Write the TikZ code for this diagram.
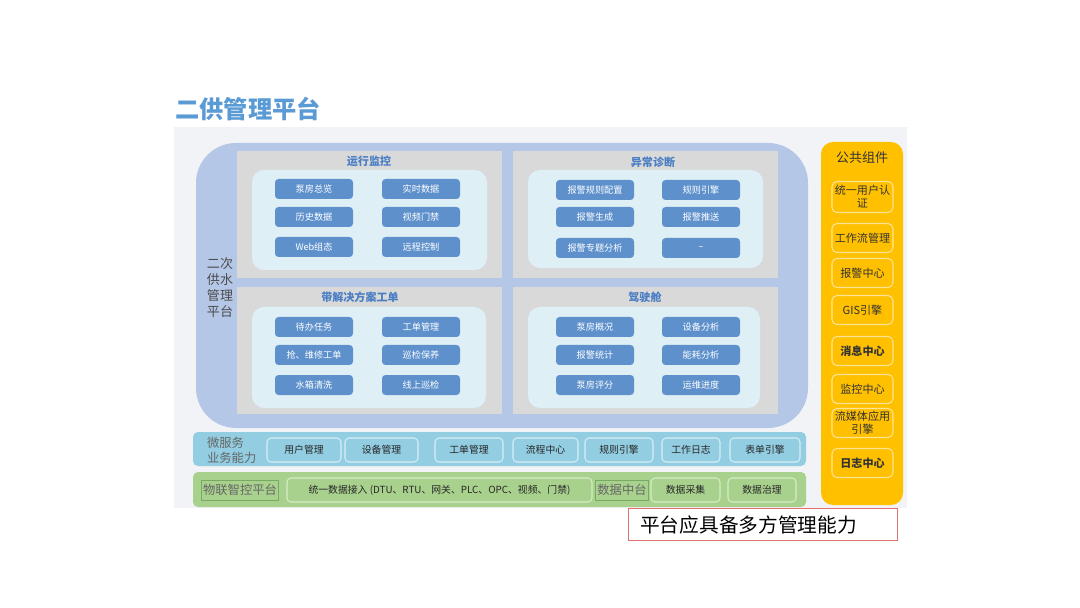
\documentclass[tikz,border=0pt]{standalone}
\usepackage{fontspec}
\setmainfont{Noto Sans CJK SC}
\usepackage{xcolor}
\usepackage{tikz}
\usetikzlibrary{positioning,shadows}
\definecolor{titleblue}{RGB}{91,155,213}
\definecolor{canvasgray}{RGB}{241,243,246}
\definecolor{areablue}{RGB}{180,199,231}
\definecolor{panelgray}{RGB}{217,217,217}
\definecolor{innercyan}{RGB}{222,239,246}
\definecolor{btnblue}{RGB}{94,145,204}
\definecolor{headblue}{RGB}{74,126,196}
\definecolor{svcblue}{RGB}{146,205,225}
\definecolor{svcedge}{RGB}{214,238,246}
\definecolor{iotgreen}{RGB}{169,209,142}
\definecolor{iotedge}{RGB}{214,236,196}
\definecolor{tagedge}{RGB}{120,170,100}
\definecolor{compyellow}{RGB}{255,192,0}
\definecolor{compedge}{RGB}{255,228,150}
\definecolor{notered}{RGB}{226,112,112}
\newlength{\pxu}
\setlength{\pxu}{0.02cm}

\begin{document}
\begin{tikzpicture}[
  x=0.02cm, y=-0.02cm,
  fn/.style={rectangle, rounded corners=2pt, fill=btnblue, text=white, inner sep=0pt,
             minimum width=78\pxu, minimum height=20\pxu, font=\fontsize{5.2}{6}\selectfont},
  head/.style={font=\fontsize{6.3}{7}\selectfont\bfseries, text=headblue, inner sep=0pt},
  svc/.style={rectangle, rounded corners=4\pxu, draw=svcedge, line width=0.6pt, fill=svcblue,
              text=black!85, inner sep=0pt, minimum height=24\pxu, font=\fontsize{5.6}{6.5}\selectfont},
  iot/.style={svc, draw=iotedge, fill=iotgreen},
  tag/.style={text=black!60, inner sep=1pt, font=\fontsize{7}{8.6}\selectfont, align=left},
  comp/.style={rectangle, rounded corners=5\pxu, draw=compedge, line width=0.6pt, fill=compyellow,
               text=black!80, inner sep=0pt, minimum width=61\pxu, minimum height=29\pxu,
               align=center, font=\fontsize{6.3}{7.4}\selectfont}]

  \useasboundingbox (0,0) rectangle (1080,608);
  \fill[white] (0,0) rectangle (1080,608);

  % ---------- title and backdrop ----------
  \node[anchor=west, inner sep=0pt, text=titleblue, font=\fontsize{13.8}{15}\selectfont\bfseries] (title) at (175,109) {二供管理平台};
  \fill[canvasgray] (174,127) rectangle (907,508);
  \fill[areablue, rounded corners=40\pxu] (196,143) rectangle (808,428);
  \node[tag, align=center, text=black!70, font=\fontsize{7.4}{9.1}\selectfont] (plat) at (220,288) {二次\\供水\\管理\\平台};

  % ---------- four panels ----------
  \fill[panelgray] (237,151) rectangle (502,278);
  \fill[panelgray] (513,151) rectangle (778,278);
  \fill[panelgray] (237,287) rectangle (502,414);
  \fill[panelgray] (513,287) rectangle (778,414);
  \begin{scope}[rounded corners=12\pxu, drop shadow={shadow xshift=1pt, shadow yshift=-1pt, opacity=0.35}]
    \fill[innercyan] (252,170) rectangle (487,270);
    \fill[innercyan] (528,170) rectangle (763,268);
    \fill[innercyan] (252,307) rectangle (486,408);
    \fill[innercyan] (528,307) rectangle (760,408);
  \end{scope}

  % monitoring
  \node[head] (monH) at (369,161) {运行监控};
  \node[fn] (mon1) at (314,189) {泵房总览};
  \node[fn] (mon2) at (421,189) {实时数据};
  \node[fn] (mon3) at (314,217) {历史数据};
  \node[fn] (mon4) at (421,217) {视频门禁};
  \node[fn] (mon5) at (314,247) {Web组态};
  \node[fn] (mon6) at (421,247) {远程控制};

  % diagnosis
  \node[head] (diaH) at (653,162) {异常诊断};
  \node[fn] (dia1) at (595,190) {报警规则配置};
  \node[fn] (dia2) at (701,190) {规则引擎};
  \node[fn] (dia3) at (595,217) {报警生成};
  \node[fn] (dia4) at (701,217) {报警推送};
  \node[fn] (dia5) at (595,248) {报警专题分析};
  \node[fn] (dia6) at (701,248) {--};

  % work orders
  \node[head] (ordH) at (360,297) {带解决方案工单};
  \node[fn] (ord1) at (314,327) {待办任务};
  \node[fn] (ord2) at (421,327) {工单管理};
  \node[fn] (ord3) at (314,355) {抢、维修工单};
  \node[fn] (ord4) at (421,355) {巡检保养};
  \node[fn] (ord5) at (314,385) {水箱清洗};
  \node[fn] (ord6) at (421,385) {线上巡检};

  % cockpit
  \node[head] (ckpH) at (645,297) {驾驶舱};
  \node[fn] (ckp1) at (595,327) {泵房概况};
  \node[fn] (ckp2) at (701,327) {设备分析};
  \node[fn] (ckp3) at (595,355) {报警统计};
  \node[fn] (ckp4) at (701,355) {能耗分析};
  \node[fn] (ckp5) at (595,385) {泵房评分};
  \node[fn] (ckp6) at (701,385) {运维进度};

  % ---------- micro services ----------
  \fill[svcblue, rounded corners=5\pxu] (193,432) rectangle (806,466);
  \node[tag, anchor=west] (svcT) at (205,450) {微服务\\业务能力};
  \node[svc, minimum width=74\pxu] (svc1) at (304,450) {用户管理};
  \node[svc, minimum width=73\pxu] (svc2) at (381.5,450) {设备管理};
  \node[svc, minimum width=68\pxu] (svc3) at (469,450) {工单管理};
  \node[svc, minimum width=65\pxu] (svc4) at (545.5,450) {流程中心};
  \node[svc, minimum width=68\pxu] (svc5) at (619,450) {规则引擎};
  \node[svc, minimum width=58\pxu] (svc6) at (691,450) {工作日志};
  \node[svc, minimum width=70\pxu] (svc7) at (765,450) {表单引擎};

  % ---------- IoT / data ----------
  \fill[iotgreen, rounded corners=5\pxu] (193,472) rectangle (806,507);
  \node[tag, draw=tagedge, line width=0.3pt, minimum height=20\pxu] (iotT) at (240,490) {物联智控平台};
  \node[iot, minimum width=305\pxu] (iot1) at (439.5,490) {统一数据接入 (DTU、RTU、网关、PLC、OPC、视频、门禁)};
  \node[tag, draw=tagedge, line width=0.3pt, minimum height=20\pxu] (dataT) at (622,490) {数据中台};
  \node[iot, minimum width=69\pxu] (iot2) at (685.5,490) {数据采集};
  \node[iot, minimum width=68\pxu] (iot3) at (762,490) {数据治理};

  % ---------- common components ----------
  \fill[compyellow, rounded corners=12\pxu] (821,142) rectangle (903,505);
  \node[inner sep=0pt, text=black!80, font=\fontsize{7.4}{8}\selectfont] (compT) at (862,158) {公共组件};
  \node[comp, minimum height=31\pxu] (cmp1) at (862.5,197) {统一用户认\\证};
  \node[comp] (cmp2) at (862.5,238) {工作流管理};
  \node[comp] (cmp3) at (862.5,273) {报警中心};
  \node[comp] (cmp4) at (862.5,310) {GIS引擎};
  \node[comp, font=\fontsize{6.3}{7.4}\selectfont\bfseries] (cmp5) at (862.5,351) {消息中心};
  \node[comp] (cmp6) at (862.5,389) {监控中心};
  \node[comp] (cmp7) at (862.5,423) {流媒体应用\\引擎};
  \node[comp, font=\fontsize{6.3}{7.4}\selectfont\bfseries] (cmp8) at (862.5,463) {日志中心};

  % ---------- note ----------
  \node[draw=notered, line width=0.6pt, fill=white, anchor=north west, inner sep=0pt,
        minimum width=269\pxu, minimum height=32\pxu, text=black, font=\fontsize{11.2}{12}\selectfont] (note) at (628,508)
        {\hspace*{-29\pxu}平台应具备多方管理能力};

\end{tikzpicture}
\end{document}
